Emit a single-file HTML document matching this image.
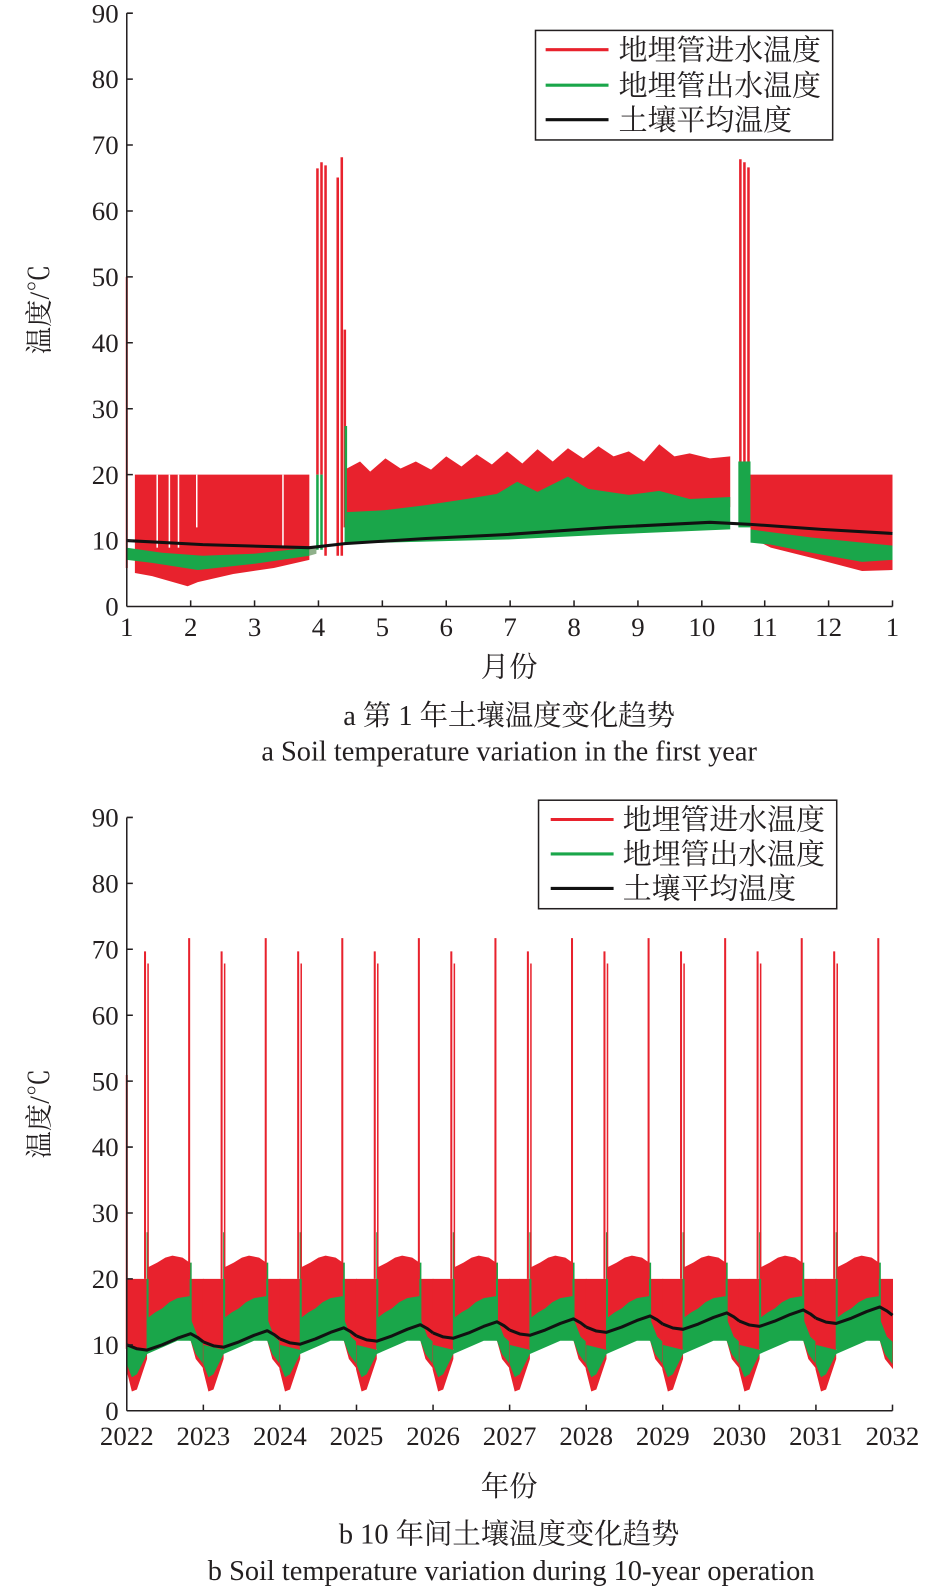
<!DOCTYPE html>
<html><head><meta charset="utf-8"><style>
html,body{margin:0;padding:0;background:#fff;overflow:hidden;width:945px;height:1589px;}
svg{display:block;}
svg text{font-family:"Liberation Serif","Noto Serif CJK SC",serif;fill:#231f20;}
</style></head><body>
<svg width="945" height="1589" viewBox="0 0 945 1589" xmlns="http://www.w3.org/2000/svg">
<defs>
<g id="yr">
<polygon fill="#e8222d" points="-0.5,1261 20,1261 20,1250 30,1245 38,1240 45,1238 55,1240 62,1245 63,1261 76,1261 76,1350 68,1340 63,1322 20,1316 20,1340 10,1370 5,1372 -0.5,1350"/>
<polygon fill="#1aa64a" points="0,1326 20,1331 20,1300 28,1294 35,1290 42,1284 50,1280 62,1278 63,1300 70,1318 75.5,1323 75.5,1345 68,1335 63,1322 50,1322 20,1335 10,1355 5,1358 0,1345"/>
<line x1="63" y1="1320" x2="63" y2="1245" stroke="#1aa64a" stroke-width="2"/>
<line x1="20.5" y1="1330" x2="20.5" y2="1215" stroke="#1aa64a" stroke-width="2"/>
<line x1="18" y1="1261" x2="18" y2="938" stroke="#e8222d" stroke-width="2"/>
<line x1="21" y1="1261" x2="21" y2="950" stroke="#e8222d" stroke-width="1.5"/>
<line x1="61.5" y1="1261" x2="61.5" y2="925" stroke="#e8222d" stroke-width="2"/>
</g>
<polyline id="bl" fill="none" stroke="#111" stroke-width="3" stroke-linejoin="round" points="0,1326 10,1329.9 20,1331.2 35,1326 50,1319.5 63,1315 70,1318.9 75.5,1323.1"/>
</defs>
<g transform="scale(1.0142)">
<!-- ===== TOP CHART ===== -->
<line x1="125" y1="273" x2="125" y2="560" stroke="#e8222d" stroke-width="2"/>
<polygon fill="#e8222d" points="133,468 305,468 305,552 270,560 230,566 195,574 185,578 150,568 133,565"/>
<g stroke="#fff" stroke-width="1.5"><line x1="155" y1="468" x2="155" y2="540"/><line x1="167" y1="468" x2="167" y2="540"/><line x1="176" y1="468" x2="176" y2="540"/><line x1="194" y1="468" x2="194" y2="520"/><line x1="279" y1="468" x2="279" y2="540"/></g>
<polygon fill="#1aa64a" points="125,540 160,545 200,548 250,546 305,540 305,548 250,556 195,562 150,555 125,552"/>
<polygon fill="#8fb08a" points="305,540 312,540 312,546 305,548"/>
<g stroke="#e8222d" stroke-width="2.5"><line x1="313" y1="166" x2="313" y2="468"/><line x1="317" y1="160" x2="317" y2="468"/><line x1="321" y1="163" x2="321" y2="548"/><line x1="333" y1="175" x2="333" y2="548"/><line x1="337" y1="155" x2="337" y2="548"/><line x1="340" y1="325" x2="340" y2="520"/></g>
<g stroke="#1aa64a" stroke-width="2.5"><line x1="313" y1="468" x2="313" y2="542"/><line x1="317" y1="468" x2="317" y2="542"/><line x1="341" y1="420" x2="341" y2="535"/></g>
<polygon fill="#e8222d" points="342,462 355,455 365,465 380,452 395,462 410,455 425,463 440,450 455,460 470,448 485,458 500,445 515,457 530,443 545,455 560,442 575,452 590,440 605,450 620,445 635,455 650,438 665,450 680,447 700,452 720,450 720,500 600,497 500,505 342,512"/>
<polygon fill="#1aa64a" points="342,505 380,503 420,498 460,492 490,487 510,475 530,485 560,470 580,482 600,485 620,488 650,484 680,492 720,490 720,522 600,527 500,532 342,536"/>
<g stroke="#e8222d" stroke-width="2.5"><line x1="730" y1="157" x2="730" y2="468"/><line x1="734" y1="160" x2="734" y2="468"/><line x1="738" y1="165" x2="738" y2="468"/></g>
<rect x="728" y="455" width="12" height="65" fill="#1aa64a"/>
<polygon fill="#e8222d" points="740,468 880,468 880,562 850,563 800,550 760,540 740,530"/>
<polygon fill="#1aa64a" points="740,522 800,530 880,538 880,552 850,554 800,545 760,537 740,535"/>
<polyline fill="none" stroke="#111" stroke-width="3" points="125,533 200,537 305,540 340,536 420,531 500,527 600,520 700,515 740,517 810,522 880,526"/>
<g stroke="#231f20" stroke-width="1.5" fill="none">
<line x1="125" y1="13" x2="125" y2="598"/><line x1="125" y1="598" x2="880" y2="598"/>
<path d="M125 13h6M125 78h6M125 143h6M125 208h6M125 273h6M125 338h6M125 403h6M125 468h6M125 533h6"/>
<path d="M188 598v-6M251 598v-6M314 598v-6M377 598v-6M440 598v-6M503 598v-6M566 598v-6M629 598v-6M692 598v-6M754 598v-6M817 598v-6M880 598v-6"/>
</g>
<g font-size="26.5" text-anchor="end">
<text x="117" y="22">90</text><text x="117" y="87">80</text><text x="117" y="152">70</text><text x="117" y="217">60</text><text x="117" y="282">50</text><text x="117" y="347">40</text><text x="117" y="412">30</text><text x="117" y="477">20</text><text x="117" y="542">10</text><text x="117" y="607">0</text>
</g>
<g font-size="26.5" text-anchor="middle">
<text x="125" y="627">1</text><text x="188" y="627">2</text><text x="251" y="627">3</text><text x="314" y="627">4</text><text x="377" y="627">5</text><text x="440" y="627">6</text><text x="503" y="627">7</text><text x="566" y="627">8</text><text x="629" y="627">9</text><text x="692" y="627">10</text><text x="754" y="627">11</text><text x="817" y="627">12</text><text x="880" y="627">1</text>
</g>
<g font-size="28" text-anchor="middle">
<text x="502" y="667">月份</text>
<text x="502" y="715">a  第 1 年土壤温度变化趋势</text>
<text x="502" y="750">a  Soil temperature variation in the first year</text>
</g>
<text font-size="27" text-anchor="middle" transform="translate(48,305) rotate(-90)">温度/℃</text>
<rect x="528" y="30" width="293" height="108" fill="#fff" stroke="#231f20" stroke-width="1.5"/>
<line x1="538" y1="49" x2="600" y2="49" stroke="#e8222d" stroke-width="3"/>
<line x1="538" y1="84" x2="600" y2="84" stroke="#1aa64a" stroke-width="3"/>
<line x1="538" y1="118" x2="600" y2="118" stroke="#111" stroke-width="3"/>
<g font-size="28.5"><text x="610" y="59">地埋管进水温度</text><text x="610" y="94">地埋管出水温度</text><text x="610" y="128">土壤平均温度</text></g>

<!-- ===== BOTTOM CHART ===== -->
<line x1="125" y1="1060" x2="125" y2="1330" stroke="#e8222d" stroke-width="2"/>
<use href="#yr" x="125"/><use href="#yr" x="200.5"/><use href="#yr" x="276"/><use href="#yr" x="351.5"/><use href="#yr" x="427"/><use href="#yr" x="502.5"/><use href="#yr" x="578"/><use href="#yr" x="653.5"/><use href="#yr" x="729"/><use href="#yr" x="804.5"/>
<use href="#bl" x="125" y="0"/><use href="#bl" x="200.5" y="-2.9"/><use href="#bl" x="276" y="-5.8"/><use href="#bl" x="351.5" y="-8.8"/><use href="#bl" x="427" y="-11.7"/><use href="#bl" x="502.5" y="-14.6"/><use href="#bl" x="578" y="-17.5"/><use href="#bl" x="653.5" y="-20.5"/><use href="#bl" x="729" y="-23.4"/><use href="#bl" x="804.5" y="-26.3"/>
<g stroke="#231f20" stroke-width="1.5" fill="none">
<line x1="125" y1="806" x2="125" y2="1391"/><line x1="125" y1="1391" x2="880" y2="1391"/>
<path d="M125 806h6M125 871h6M125 936h6M125 1001h6M125 1066h6M125 1131h6M125 1196h6M125 1261h6M125 1326h6"/>
<path d="M200.5 1391v-6M276 1391v-6M351.5 1391v-6M427 1391v-6M502.5 1391v-6M578 1391v-6M653.5 1391v-6M729 1391v-6M804.5 1391v-6M880 1391v-6"/>
</g>
<g font-size="26.5" text-anchor="end">
<text x="117" y="815">90</text><text x="117" y="880">80</text><text x="117" y="945">70</text><text x="117" y="1010">60</text><text x="117" y="1075">50</text><text x="117" y="1140">40</text><text x="117" y="1205">30</text><text x="117" y="1270">20</text><text x="117" y="1335">10</text><text x="117" y="1400">0</text>
</g>
<g font-size="26.5" text-anchor="middle">
<text x="125" y="1425">2022</text><text x="200.5" y="1425">2023</text><text x="276" y="1425">2024</text><text x="351.5" y="1425">2025</text><text x="427" y="1425">2026</text><text x="502.5" y="1425">2027</text><text x="578" y="1425">2028</text><text x="653.5" y="1425">2029</text><text x="729" y="1425">2030</text><text x="804.5" y="1425">2031</text><text x="880" y="1425">2032</text>
</g>
<g font-size="28" text-anchor="middle">
<text x="502" y="1475">年份</text>
<text x="502" y="1522">b  10 年间土壤温度变化趋势</text>
<text x="504" y="1558">b  Soil temperature variation during 10-year operation</text>
</g>
<text font-size="27" text-anchor="middle" transform="translate(48,1098) rotate(-90)">温度/℃</text>
<rect x="531" y="789" width="294" height="107" fill="#fff" stroke="#231f20" stroke-width="1.5"/>
<line x1="543" y1="808" x2="605" y2="808" stroke="#e8222d" stroke-width="3"/>
<line x1="543" y1="842" x2="605" y2="842" stroke="#1aa64a" stroke-width="3"/>
<line x1="543" y1="876" x2="605" y2="876" stroke="#111" stroke-width="3"/>
<g font-size="28.5"><text x="614" y="818">地埋管进水温度</text><text x="614" y="852">地埋管出水温度</text><text x="614" y="886">土壤平均温度</text></g>
</g>
</svg>
</body></html>
